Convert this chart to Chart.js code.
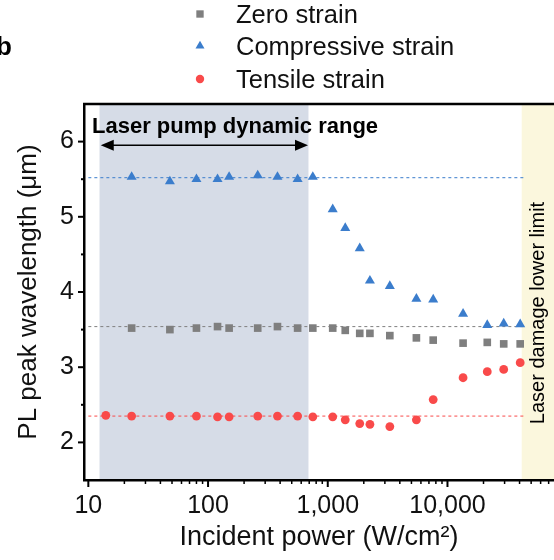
<!DOCTYPE html>
<html>
<head>
<meta charset="utf-8">
<script src="https://cdn.jsdelivr.net/npm/chart.js@4.4.1/dist/chart.umd.min.js"></script>
<style>
  body { margin: 0; background: #fff; }
  canvas { display: block; }
</style>
</head>
<body>
<canvas id="pl-chart" width="554" height="560"></canvas>
<script>
// incident power (W/cm2)
var power = [23, 48, 80, 120, 150, 260, 380, 560, 750, 1100, 1400, 1850, 2250, 3300, 5500, 7600, 13500, 21500, 29500, 40500];
var tensilePower = [14, 23, 48, 80, 120, 150, 260, 380, 560, 750, 1100, 1400, 1850, 2250, 3300, 5500, 7600, 13500, 21500, 29500, 40500];

// PL peak wavelength (um)
var zeroStrain = [3.52, 3.50, 3.52, 3.54, 3.52, 3.52, 3.54, 3.52, 3.52, 3.52, 3.49, 3.45, 3.45, 3.42, 3.39, 3.36, 3.32, 3.33, 3.31, 3.31];
var compressiveStrain = [5.53, 5.47, 5.50, 5.50, 5.53, 5.55, 5.53, 5.50, 5.53, 5.10, 4.85, 4.58, 4.15, 4.08, 3.91, 3.90, 3.71, 3.56, 3.58, 3.57];
var tensileStrain = [2.36, 2.35, 2.35, 2.35, 2.34, 2.34, 2.35, 2.35, 2.35, 2.34, 2.34, 2.30, 2.25, 2.24, 2.21, 2.30, 2.57, 2.86, 2.94, 2.97, 3.06];

// dotted guide lines (zero, compressive, tensile)
var guideRange = [10, 45000];
var guideLevels = [3.54, 5.52, 2.35];

var pumpRange = [12.4, 690];
var arrowRange = [12.7, 684];
var arrowLevel = 5.95;
var damageLimit = 41700;

var xTickLabels = [10, 100, 1000, 10000];

var seriesNames = ['Zero strain', 'Compressive strain', 'Tensile strain'];
var colors = ['#7f7f7f', '#3b7dcc', '#f94a4a'];

var fontFamily = "'Liberation Sans', Arial, sans-serif";

function pairs(xs, ys) {
    return xs.map(function (x, i) { return {x: x, y: ys[i]}; });
}

function guide(level, color) {
    return {
        data: pairs(guideRange, [level, level]),
        showLine: true,
        borderColor: color,
        borderWidth: 1,
        borderDash: [3, 3],
        pointRadius: 0,
        order: 2
    };
}

function drawMarker(ctx, style, x, y, r, color) {
    ctx.fillStyle = color;
    ctx.beginPath();
    if (style === 'rect') {
        var s = Math.SQRT1_2 * r;
        ctx.rect(x - s, y - s, 2 * s, 2 * s);
    } else if (style === 'triangle') {
        ctx.moveTo(x, y - r);
        ctx.lineTo(x + r * 0.866, y + r / 2);
        ctx.lineTo(x - r * 0.866, y + r / 2);
        ctx.closePath();
    } else {
        ctx.arc(x, y, r, 0, Math.PI * 2);
    }
    ctx.fill();
}

var decorations = {
    id: 'decorations',
    beforeDraw: function (chart) {
        var ctx = chart.ctx, a = chart.chartArea, x = chart.scales.x;
        ctx.save();
        var p0 = x.getPixelForValue(pumpRange[0]);
        var p1 = x.getPixelForValue(pumpRange[1]);
        ctx.fillStyle = '#d6dce7';
        ctx.fillRect(p0, a.top, p1 - p0, a.bottom - a.top);
        var d0 = x.getPixelForValue(damageLimit);
        ctx.fillStyle = '#fbf7dd';
        ctx.fillRect(d0, a.top, a.right - d0, a.bottom - a.top);
        ctx.restore();
    },
    afterDraw: function (chart) {
        var ctx = chart.ctx, a = chart.chartArea;
        var x = chart.scales.x, y = chart.scales.y;
        ctx.save();
        ctx.strokeStyle = '#000';

        // top frame line
        ctx.lineWidth = 2.5;
        ctx.beginPath();
        ctx.moveTo(a.left - 1, a.top);
        ctx.lineTo(a.right, a.top);
        ctx.stroke();

        // x ticks, outward
        x.ticks.forEach(function (t) {
            var v = t.value;
            var m = v / Math.pow(10, Math.floor(Math.log10(v) + 1e-9));
            if (Math.abs(m - Math.round(m)) > 1e-6) return;
            var px = x.getPixelForValue(v);
            if (px < a.left + 2 || px > a.right - 1) return;
            var major = Math.round(m) === 1;
            ctx.lineWidth = major ? 2 : 1.5;
            ctx.beginPath();
            ctx.moveTo(px, a.bottom);
            ctx.lineTo(px, a.bottom + (major ? 7 : 4));
            ctx.stroke();
        });

        // y ticks, outward
        y.ticks.forEach(function (t) {
            var v = t.value;
            if (v <= y.min || v >= y.max) return;
            var py = y.getPixelForValue(v);
            var major = Number.isInteger(v);
            ctx.lineWidth = 2;
            ctx.beginPath();
            ctx.moveTo(a.left, py);
            ctx.lineTo(a.left - (major ? 6 : 3), py);
            ctx.stroke();
        });

        // pump range arrow
        var ax0 = x.getPixelForValue(arrowRange[0]);
        var ax1 = x.getPixelForValue(arrowRange[1]);
        var ay = y.getPixelForValue(arrowLevel);
        ctx.lineWidth = 1.5;
        ctx.beginPath();
        ctx.moveTo(ax0 + 8, ay);
        ctx.lineTo(ax1 - 8, ay);
        ctx.stroke();
        ctx.fillStyle = '#000';
        ctx.beginPath();
        ctx.moveTo(ax0, ay);
        ctx.lineTo(ax0 + 13, ay - 5.5);
        ctx.lineTo(ax0 + 13, ay + 5.5);
        ctx.closePath();
        ctx.fill();
        ctx.beginPath();
        ctx.moveTo(ax1, ay);
        ctx.lineTo(ax1 - 13, ay - 5.5);
        ctx.lineTo(ax1 - 13, ay + 5.5);
        ctx.closePath();
        ctx.fill();

        ctx.fillStyle = '#000';
        ctx.textBaseline = 'alphabetic';
        ctx.textAlign = 'left';
        ctx.font = 'bold 22px ' + fontFamily;
        ctx.fillText('Laser pump dynamic range', a.left + 8, a.top + 29);

        // damage limit label
        ctx.save();
        ctx.translate(x.getPixelForValue(damageLimit) + 17, (a.top + a.bottom) / 2 + 21);
        ctx.rotate(-Math.PI / 2);
        ctx.textAlign = 'center';
        ctx.textBaseline = 'middle';
        ctx.font = '20px ' + fontFamily;
        ctx.fillText('Laser damage lower limit', 0, 0);
        ctx.restore();

        // panel letter
        ctx.font = 'bold 26px ' + fontFamily;
        ctx.fillText('b', -4, 55);

        // legend
        var styles = ['rect', 'triangle', 'circle'];
        var radii = [5.2, 5.2, 4.2];
        var rows = [23, 55, 88];
        ctx.font = '25.5px ' + fontFamily;
        ctx.textAlign = 'left';
        for (var i = 0; i < 3; i++) {
            drawMarker(ctx, styles[i], 200, rows[i] - 9, radii[i], colors[i]);
            ctx.fillStyle = '#111';
            ctx.fillText(seriesNames[i], 236, rows[i]);
        }
        ctx.restore();
    }
};

const ctx = document.getElementById('pl-chart');

var plChart = new Chart(ctx, {
    type: 'scatter',
    data: {
        datasets: [
            {
                label: seriesNames[0],
                data: pairs(power, zeroStrain),
                pointStyle: 'rect',
                pointRadius: 5.4,
                backgroundColor: colors[0],
                borderWidth: 0,
                order: 1
            },
            {
                label: seriesNames[1],
                data: pairs(power, compressiveStrain),
                pointStyle: 'triangle',
                pointRadius: 5.8,
                backgroundColor: colors[1],
                borderWidth: 0,
                order: 1
            },
            {
                label: seriesNames[2],
                data: pairs(tensilePower, tensileStrain),
                pointStyle: 'circle',
                pointRadius: 4.4,
                backgroundColor: colors[2],
                borderWidth: 0,
                order: 1
            },
            guide(guideLevels[0], '#808080'),
            guide(guideLevels[1], colors[1]),
            guide(guideLevels[2], colors[2])
        ]
    },
    options: {
        responsive: false,
        animation: false,
        devicePixelRatio: 1,
        layout: {
            autoPadding: false,
            padding: {top: 104, right: 0, left: 0, bottom: 0}
        },
        plugins: {
            legend: {display: false},
            tooltip: {enabled: false}
        },
        scales: {
            x: {
                type: 'logarithmic',
                min: 9.2,
                max: 77600,
                afterFit: function (s) {
                    s.height = 80;
                    s.paddingLeft = 0;
                    s.paddingRight = 0;
                },
                grid: {display: false, drawTicks: false},
                border: {display: true, color: '#000', width: 2.5},
                ticks: {
                    autoSkip: false,
                    maxRotation: 0,
                    padding: 11,
                    color: '#111',
                    font: {family: fontFamily, size: 25},
                    callback: function (v) {
                        return xTickLabels.indexOf(v) >= 0 ? v.toLocaleString('en-US') : '';
                    }
                },
                title: {
                    display: true,
                    text: 'Incident power (W/cm²)',
                    color: '#111',
                    font: {family: fontFamily, size: 27},
                    padding: {top: 0, bottom: 6}
                }
            },
            y: {
                min: 1.5,
                max: 6.5,
                afterFit: function (s) {
                    s.width = 84;
                    s.paddingTop = 0;
                    s.paddingBottom = 0;
                },
                grid: {display: false, drawTicks: false},
                border: {display: true, color: '#000', width: 2.5},
                ticks: {
                    stepSize: 0.5,
                    padding: 10,
                    color: '#111',
                    font: {family: fontFamily, size: 25},
                    callback: function (v) {
                        return Number.isInteger(v) ? String(v) : '';
                    }
                },
                title: {
                    display: true,
                    text: 'PL peak wavelength (μm)',
                    color: '#111',
                    font: {family: fontFamily, size: 26},
                    padding: {top: 13, bottom: 0}
                }
            }
        }
    },
    plugins: [decorations]
});
</script>
</body>
</html>
